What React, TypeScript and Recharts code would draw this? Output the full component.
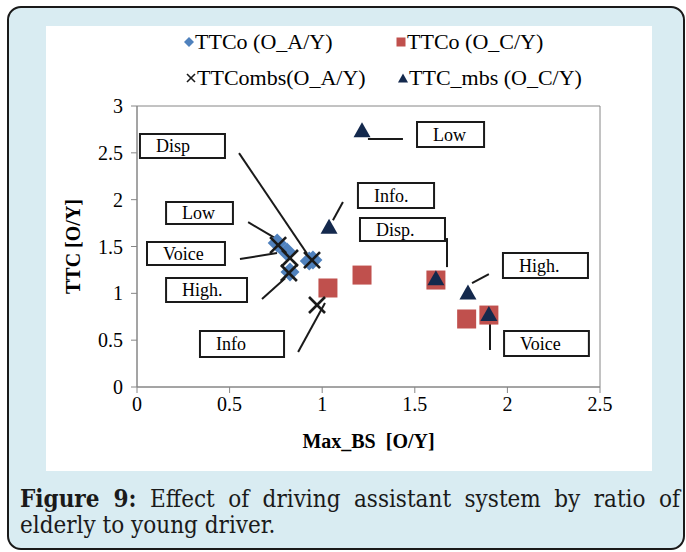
import React from 'react';
import {
  ScatterChart, Scatter, XAxis, YAxis, ReferenceArea, ReferenceLine, Label,
} from 'recharts';

// ---- data (x = Max_BS [O/Y], y = TTC [O/Y]) ----
const ttcoA: [number, number][] = [
  [0.757, 1.537], [0.81, 1.44], [0.826, 1.228], [0.95, 1.355], [0.93, 1.345],
];
const ttcoC: [number, number][] = [
  [1.031, 1.057], [1.215, 1.195], [1.614, 1.142], [1.78, 0.726], [1.9, 0.768],
];
const ttcombsA: [number, number][] = [
  [0.762, 1.515], [0.826, 1.377], [0.82, 1.217], [0.945, 1.355], [0.972, 0.875],
];
const ttcMbsC: [number, number][] = [
  [1.215, 2.74], [1.037, 1.71], [1.614, 1.16], [1.787, 1.01], [1.9, 0.78],
];

const seriesNames = ['TTCo (O_A/Y)', 'TTCo (O_C/Y)', 'TTCombs(O_A/Y)', 'TTC_mbs (O_C/Y)'];
const xTicks = [0, 0.5, 1, 1.5, 2, 2.5];
const yTicks = [0, 0.5, 1, 1.5, 2, 2.5, 3];

// callout boxes: [label, x1, x2, y1, y2] in data units
const callouts: [string, number, number, number, number][] = [
  ['Disp', 0.016, 0.475, 2.444, 2.70],
  ['Low', 0.157, 0.518, 1.74, 1.974],
  ['Voice', 0.054, 0.475, 1.302, 1.547],
  ['High.', 0.157, 0.594, 0.907, 1.163],
  ['Info', 0.34, 0.794, 0.32, 0.598],
  ['Low', 1.512, 1.874, 2.561, 2.828],
  ['Info.', 1.193, 1.604, 1.91, 2.177],
  ['Disp.', 1.204, 1.663, 1.558, 1.804],
  ['High.', 1.976, 2.435, 1.163, 1.43],
  ['Voice', 1.982, 2.44, 0.33, 0.598],
];
// leader lines: [x1, y1, x2, y2] in data units
const leaders: [number, number, number, number][] = [
  [0.551, 2.497, 0.934, 1.377],
  [0.6, 1.76, 0.783, 1.547],
  [0.556, 1.366, 0.756, 1.43],
  [0.675, 0.939, 0.8, 1.16],
  [0.87, 0.374, 1.015, 0.896],
  [1.247, 2.647, 1.436, 2.647],
  [1.112, 1.974, 1.058, 1.78],
  [1.674, 1.59, 1.674, 1.28],
  [1.9, 1.206, 1.809, 1.11],
  [1.906, 0.395, 1.906, 0.854],
];

const toPts = (a: [number, number][]) => a.map(([x, y]) => ({ x, y }));

const SERIF = '"Liberation Serif", "Times New Roman", serif';
const CAPTION_FONT = '"DejaVu Serif Condensed", "DejaVu Serif", serif';
const AXIS = '#868686';
const BLUE = '#4f81bd';
const RED = '#c0504d';
const NAVY = '#14294d';
const DARK = '#1a1a1a';

const Diamond = (p: any) => {
  const { cx, cy } = p;
  const r = 9.5;
  return <path d={`M${cx},${cy - r}L${cx + r},${cy}L${cx},${cy + r}L${cx - r},${cy}Z`} fill={BLUE} />;
};
const Square = (p: any) => {
  const { cx, cy } = p;
  const s = 19;
  return <rect x={cx - s / 2} y={cy - s / 2} width={s} height={s} fill={RED} />;
};
const Cross = (p: any) => {
  const { cx, cy } = p;
  const r = 8;
  return (
    <g stroke={DARK} strokeWidth={2.6}>
      <line x1={cx - r} y1={cy - r} x2={cx + r} y2={cy + r} />
      <line x1={cx - r} y1={cy + r} x2={cx + r} y2={cy - r} />
    </g>
  );
};
const Triangle = (p: any) => {
  const { cx, cy } = p;
  return <path d={`M${cx},${cy - 8}L${cx + 8.5},${cy + 7}L${cx - 8.5},${cy + 7}Z`} fill={NAVY} />;
};

const legendIcon = (i: number) => {
  if (i === 0) return <svg width={12} height={12}><path d="M6,1L11,6L6,11L1,6Z" fill={BLUE} /></svg>;
  if (i === 1) return <svg width={12} height={12}><rect x={1.5} y={1.5} width={9} height={9} fill={RED} /></svg>;
  if (i === 2) return <svg width={12} height={12}><g stroke={DARK} strokeWidth={1.6}><line x1={2} y1={2} x2={10} y2={10} /><line x1={2} y1={10} x2={10} y2={2} /></g></svg>;
  return <svg width={12} height={12}><path d="M6,1.5L11,10.5L1,10.5Z" fill={NAVY} /></svg>;
};

const legendPos = [
  { left: 183 - 46, top: 42 - 26 },
  { left: 395 - 46, top: 42 - 26 },
  { left: 185 - 46, top: 78 - 26 },
  { left: 397 - 46, top: 78 - 26 },
];

export default function App() {
  return (
    <div style={{ position: 'absolute', left: 0, top: 0, width: 686, height: 552, background: '#fff', overflow: 'hidden' }}>
      <div
        style={{
          position: 'absolute', left: 7, top: 6, width: 678, height: 544, boxSizing: 'border-box',
          border: '2px solid #1a1a1a', borderRadius: 14, background: '#d9ecf2',
        }}
      />
      <div style={{ position: 'absolute', left: 46, top: 26, width: 606, height: 445, background: '#fff' }}>
        <ScatterChart width={606} height={445} margin={{ top: 80, right: 52, left: 41, bottom: 44 }}>
          <XAxis
            type="number" dataKey="x" domain={[0, 2.5]} ticks={xTicks} height={40}
            stroke={AXIS} tickSize={6} tickMargin={4} interval={0}
            tick={{ fill: '#000', fontSize: 20, fontFamily: SERIF }}
            tickLine={{ stroke: AXIS }}
          >
            <Label
              content={(props: any) => {
                const vb = props.viewBox;
                return (
                  <text x={vb.x + vb.width / 2} y={vb.y + 61} textAnchor="middle"
                    fontFamily={SERIF} fontSize={20} fontWeight="bold" fill="#000">
                    {'Max_BS\u00a0\u00a0[O/Y]'}
                  </text>
                );
              }}
            />
          </XAxis>
          <YAxis
            type="number" dataKey="y" domain={[0, 3]} ticks={yTicks} width={50}
            stroke={AXIS} tickSize={6} tickMargin={8} interval={0}
            tick={{ fill: '#000', fontSize: 20, fontFamily: SERIF }}
            tickLine={{ stroke: AXIS }}
          >
            <Label
              content={(props: any) => {
                const vb = props.viewBox;
                const cx = 27;
                const cy = vb.y + vb.height / 2;
                return (
                  <text x={cx} y={cy} textAnchor="middle" dominantBaseline="central"
                    transform={`rotate(-90, ${cx}, ${cy})`}
                    fontFamily={SERIF} fontSize={20} fontWeight="bold" fill="#000">
                    TTC [O/Y]
                  </text>
                );
              }}
            />
          </YAxis>
          <ReferenceArea x1={0} x2={2.5} y1={0} y2={3} fill="none" stroke={AXIS} strokeWidth={1} fillOpacity={0} />
          {leaders.map(([x1, y1, x2, y2], i) => (
            <ReferenceLine key={'l' + i} segment={[{ x: x1, y: y1 }, { x: x2, y: y2 }]} stroke={DARK} strokeWidth={2} />
          ))}
          {callouts.map(([t, x1, x2, y1, y2], i) => (
            <ReferenceArea
              key={'c' + i} x1={x1} x2={x2} y1={y1} y2={y2}
              fill="#fff" fillOpacity={1} stroke={DARK} strokeWidth={2}
              label={{ value: t, position: 'insideLeft', offset: 16, fill: '#000', fontSize: 18, fontFamily: SERIF }}
            />
          ))}
          <Scatter name={seriesNames[0]} data={toPts(ttcoA)} shape={Diamond} isAnimationActive={false} />
          <Scatter name={seriesNames[1]} data={toPts(ttcoC)} shape={Square} isAnimationActive={false} />
          <Scatter name={seriesNames[2]} data={toPts(ttcombsA)} shape={Cross} isAnimationActive={false} />
          <Scatter name={seriesNames[3]} data={toPts(ttcMbsC)} shape={Triangle} isAnimationActive={false} />
        </ScatterChart>
        {seriesNames.map((n, i) => (
          <div key={n} style={{
            position: 'absolute', left: legendPos[i].left, top: legendPos[i].top - 13, height: 26,
            display: 'flex', alignItems: 'center', fontFamily: SERIF, fontSize: 22, color: '#000', whiteSpace: 'nowrap',
          }}>
            {legendIcon(i)}
            <span>{n}</span>
          </div>
        ))}
      </div>
      <div style={{
        position: 'absolute', left: 20, top: 485, width: 660, fontFamily: CAPTION_FONT, fontStretch: 'condensed', fontSize: 24,
        lineHeight: '27px', color: '#1a1a1a', textAlign: 'justify', textAlignLast: 'justify', whiteSpace: 'normal',
      }}>
        <b>Figure 9:</b> Effect of driving assistant system by ratio of
      </div>
      <div style={{
        position: 'absolute', left: 20, top: 512, width: 660, fontFamily: CAPTION_FONT, fontStretch: 'condensed', fontSize: 24,
        lineHeight: '27px', color: '#1a1a1a', whiteSpace: 'nowrap',
      }}>
        elderly to young driver.
      </div>
    </div>
  );
}
